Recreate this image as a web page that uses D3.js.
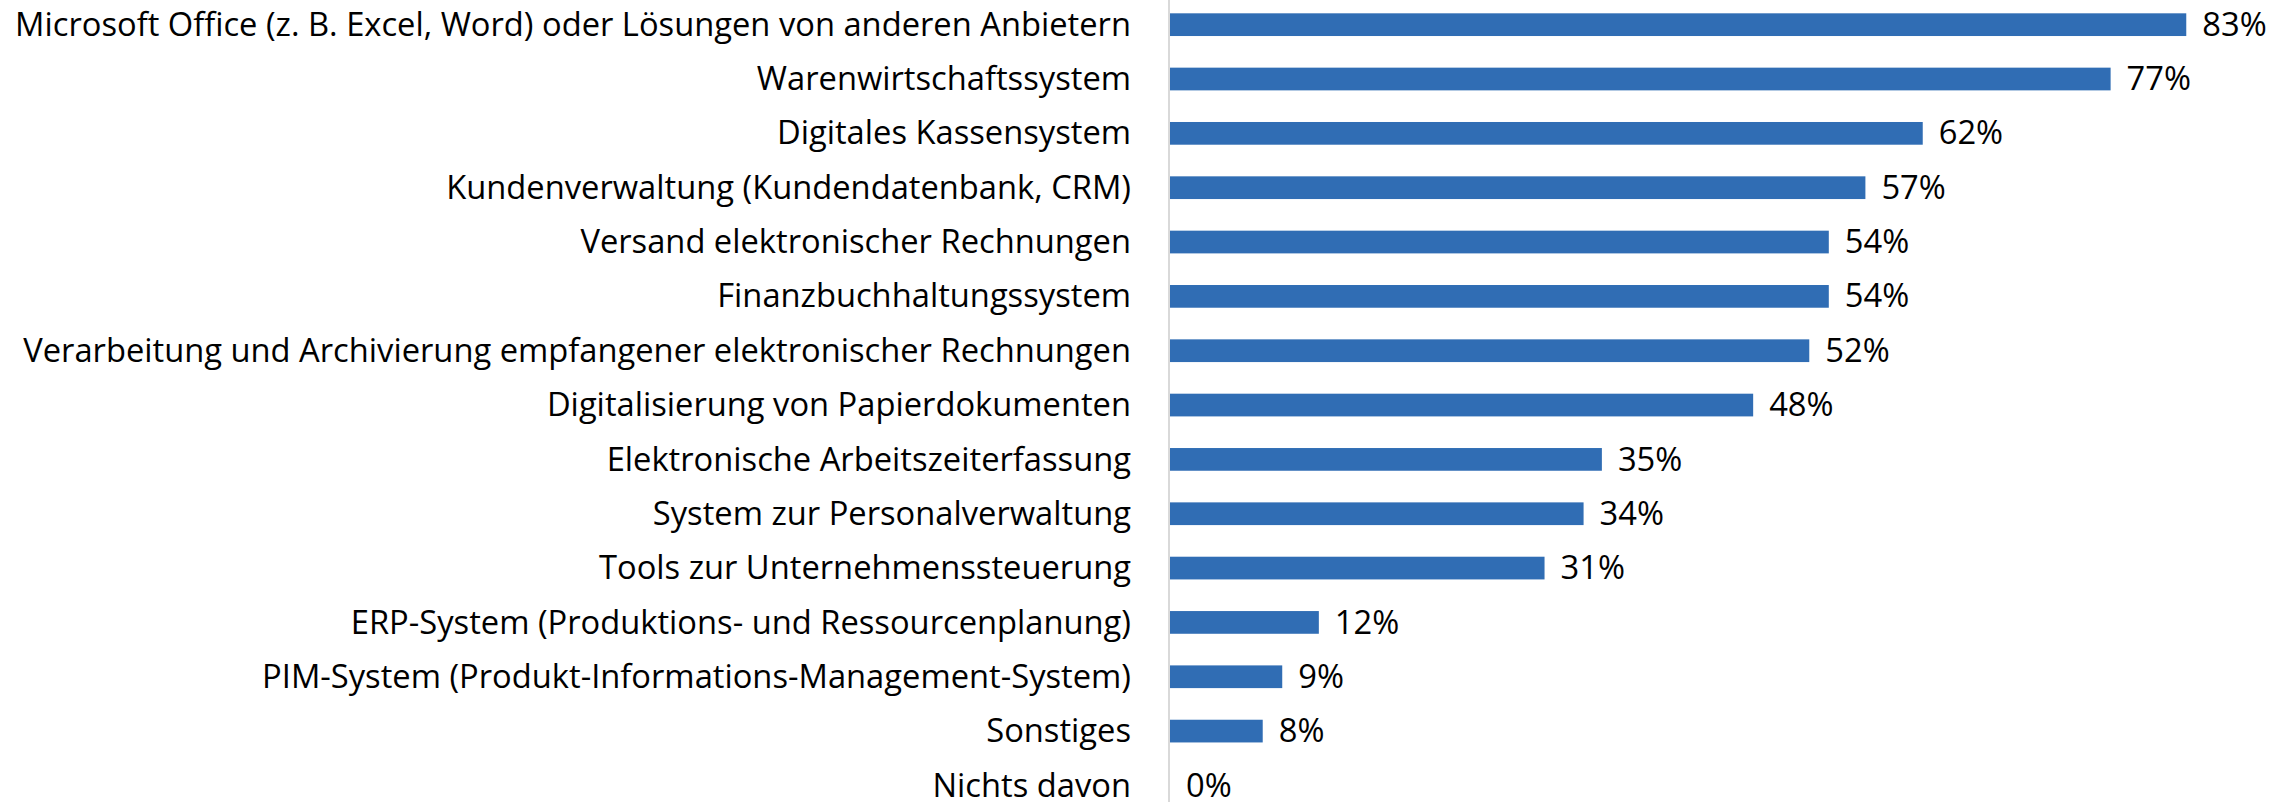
<!DOCTYPE html>
<html>
<head>
<meta charset="utf-8">
<script src="https://cdn.jsdelivr.net/npm/d3@7"></script>
<style>
html,body{margin:0;padding:0;background:#fff;}
svg{display:block;}
text{font-family:"Open Sans",sans-serif;fill:#000;}
</style>
</head>
<body>
<svg id="chart" width="2292" height="802"></svg>
<script>
const categories = [
  "Microsoft Office (z. B. Excel, Word) oder Lösungen von anderen Anbietern",
  "Warenwirtschaftssystem",
  "Digitales Kassensystem",
  "Kundenverwaltung (Kundendatenbank, CRM)",
  "Versand elektronischer Rechnungen",
  "Finanzbuchhaltungssystem",
  "Verarbeitung und Archivierung empfangener elektronischer Rechnungen",
  "Digitalisierung von Papierdokumenten",
  "Elektronische Arbeitszeiterfassung",
  "System zur Personalverwaltung",
  "Tools zur Unternehmenssteuerung",
  "ERP-System (Produktions- und Ressourcenplanung)",
  "PIM-System (Produkt-Informations-Management-System)",
  "Sonstiges",
  "Nichts davon"
];
const values = [83.3, 77.1, 61.7, 57.0, 54.0, 54.0, 52.4, 47.8, 35.4, 33.9, 30.7, 12.2, 9.2, 7.6, 0];

const svg = d3.select("#chart");
const axisX = 1169;
const x = d3.scaleLinear().domain([0, 100]).range([axisX + 1, axisX + 1 + 1220]);
const y = d3.scaleBand().domain(categories).range([-2.5, 812.6]).paddingInner(0.582).paddingOuter(0.291);

// fit the font so the longest label spans the same width as in the reference
const probe = svg.append("text").attr("font-size", 32).text(categories[0]);
const w32 = probe.node().getComputedTextLength();
probe.remove();
const fontSize = Math.min(36, 32 * 1116 / w32);

// bars
svg.append("g").selectAll("rect").data(values).join("rect")
  .attr("x", x(0))
  .attr("y", (d, i) => y(categories[i]))
  .attr("width", d => x(d) - x(0))
  .attr("height", y.bandwidth())
  .attr("fill", "#306db4");

// category axis
const yAxis = d3.axisLeft(y).tickSize(0).tickPadding(38);
const g = svg.append("g").attr("transform", `translate(${axisX},0)`).call(yAxis);
g.select(".domain").attr("stroke", "#d9d9d9").attr("stroke-width", 2).attr("d", "M0,0V802");
g.selectAll(".tick text")
  .attr("font-family", "'Open Sans', sans-serif")
  .attr("font-size", fontSize)
  .attr("fill", "#000")
  .attr("dy", "0.34em");

// data labels
svg.append("g").selectAll("text").data(values).join("text")
  .attr("x", d => x(d) + 16)
  .attr("y", (d, i) => y(categories[i]) + y.bandwidth() / 2)
  .attr("dy", "0.34em")
  .attr("font-size", fontSize)
  .text(d => Math.round(d) + "%");
</script>
</body>
</html>
